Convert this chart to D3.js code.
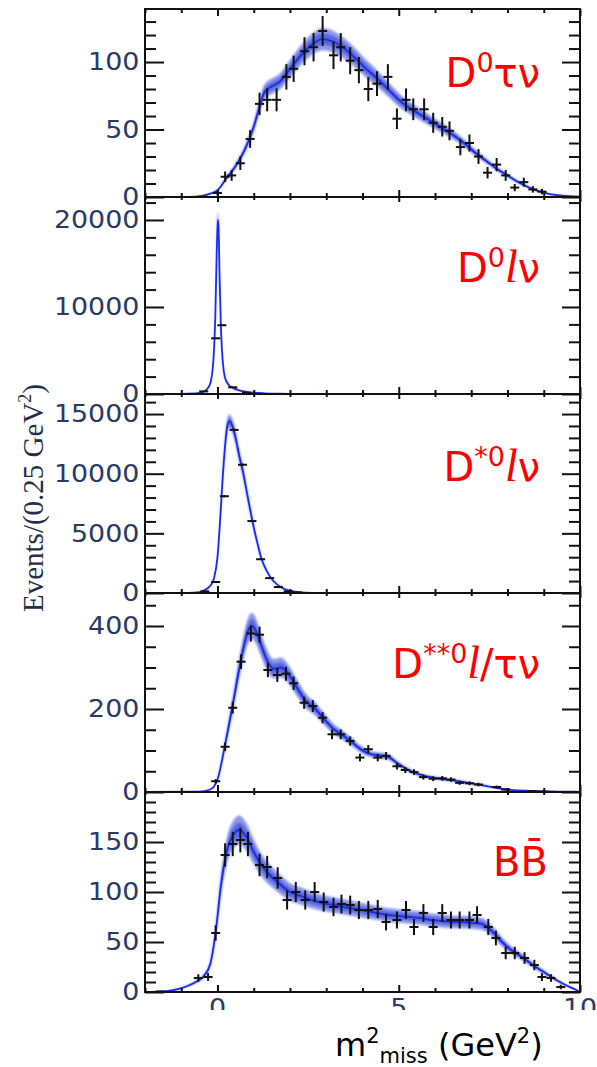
<!DOCTYPE html>
<html>
<head>
<meta charset="utf-8">
<script src="https://cdn.jsdelivr.net/npm/d3@7"></script>
<style>
  html, body { margin: 0; padding: 0; background: #fff; }
  svg { display: block; }
</style>
</head>
<body>
<svg id="chart" width="597" height="1067"></svg>
<script>
// ---- Missing-mass-squared distributions, one panel per component ----

// x axis (m^2_miss, GeV^2)
const xDomain = [-2, 10];
const xTickLabels = [0, 5, 10];
const xMinorStep = 1;

// y axis per panel
const yMax = [139.3, 22640, 16680, 479.5, 200];
const yMajorTicks = [[0, 50, 100], [0, 10000, 20000], [0, 5000, 10000, 15000], [0, 200, 400], [0, 50, 100, 150]];
const yMinorStep = [10, 2000, 1000, 50, 10];
const bandFrac = [0.07, 0.05, 0.04, 0.08, 0.09];

// D0 tau nu
const dTauDataX = [0.0, 0.21, 0.39, 0.63, 0.9, 1.16, 1.37, 1.63, 1.9, 2.1, 2.4, 2.65, 2.9, 3.2, 3.4, 3.66, 3.9, 4.16, 4.4, 4.7, 4.95, 5.2, 5.4, 5.7, 5.95, 6.2, 6.4, 6.7, 6.95, 7.2, 7.45, 7.7, 7.95, 8.2, 8.45, 8.7, 8.95];
const dTauDataY = [3, 15, 16, 25, 43, 69, 72, 72, 89, 95, 108, 111, 123, 105, 111, 101, 94, 80, 84, 89, 58, 72, 65, 65, 55, 52, 49, 37, 40, 30, 18, 24, 16, 7, 11, 5.6, 4];
const dTauFitX = [-2, -1, -0.6, -0.4, -0.2, 0, 0.25, 0.5, 0.75, 1.0, 1.15, 1.3, 1.5, 1.7, 2.0, 2.3, 2.6, 2.9, 3.2, 3.5, 3.8, 4.1, 4.4, 4.7, 5.0, 5.3, 5.6, 5.9, 6.2, 6.5, 6.8, 7.1, 7.4, 7.7, 8.0, 8.3, 8.6, 8.9, 9.2, 9.5, 10];
const dTauFitY = [0, 0, 0.3, 1, 2.5, 5, 14, 23, 35, 52, 66, 78, 82, 85, 95, 105, 113, 117, 115, 110, 103, 95, 88, 80, 72, 66, 61, 56, 51, 46, 40, 33, 27, 21, 16, 11, 7, 4, 2, 1, 0.2];

// D0 l nu
const dEllDataX = [-0.38, -0.05, 0.12, 0.42, 0.8];
const dEllDataY = [300, 6400, 7900, 770, 150];
const dEllFitX = [-2, -1, -0.6, -0.4, -0.3, -0.2, -0.12, -0.06, -0.02, 0.01, 0.03, 0.06, 0.1, 0.15, 0.2, 0.3, 0.45, 0.6, 0.8, 1.0, 1.3, 1.7, 2.2, 3, 10];
const dEllFitY = [0, 20, 80, 250, 500, 1200, 3500, 9000, 16500, 20000, 19000, 13000, 7000, 3500, 2000, 1100, 650, 420, 250, 150, 80, 40, 15, 0, 0];

// D*0 l nu
const dStarEllDataX = [-0.35, -0.05, 0.19, 0.46, 0.69, 0.95, 1.19, 1.44, 1.68, 1.95, 2.2];
const dStarEllDataY = [140, 920, 8110, 13670, 10750, 6030, 2830, 1250, 500, 140, 50];
const dStarEllFitX = [-2, -0.8, -0.5, -0.35, -0.2, -0.1, 0, 0.08, 0.14, 0.2, 0.26, 0.32, 0.4, 0.5, 0.6, 0.7, 0.8, 0.9, 1.0, 1.1, 1.2, 1.35, 1.5, 1.65, 1.85, 2.05, 2.3, 2.6, 3.0, 10];
const dStarEllFitY = [0, 10, 80, 250, 600, 1200, 3000, 6500, 9500, 12000, 13800, 14400, 14100, 13000, 11500, 10200, 8600, 7000, 5500, 4200, 3000, 1900, 1150, 700, 330, 150, 60, 15, 0, 0];

// D**0 l / tau nu
const dStarStarDataX = [-0.05, 0.21, 0.42, 0.65, 0.92, 1.16, 1.39, 1.65, 1.89, 2.1, 2.39, 2.63, 2.9, 3.16, 3.4, 3.66, 3.93, 4.16, 4.42, 4.65, 4.95, 5.18, 5.42, 5.68, 5.95, 6.2, 6.44, 6.68, 6.95, 7.2, 7.7, 7.95, 8.68, 8.95];
const dStarStarDataY = [26, 109, 203, 314, 382, 379, 294, 282, 285, 262, 215, 207, 179, 139, 139, 123, 83, 103, 83, 87, 62, 53, 48, 36, 32, 33, 30, 22, 21, 18, 12, 6, 2, 1];
const dStarStarFitX = [-2, -0.5, -0.2, 0, 0.2, 0.42, 0.65, 0.85, 0.95, 1.05, 1.2, 1.35, 1.55, 1.75, 1.95, 2.2, 2.45, 2.7, 2.95, 3.2, 3.45, 3.7, 3.95, 4.2, 4.45, 4.7, 4.95, 5.2, 5.45, 5.7, 6.0, 6.3, 6.6, 6.9, 7.2, 7.5, 7.8, 8.1, 8.5, 9.0, 9.5, 10];
const dStarStarFitY = [0, 1, 6, 30, 110, 210, 320, 390, 400, 390, 355, 320, 297, 300, 285, 250, 218, 200, 175, 152, 137, 121, 103, 92, 88, 85, 70, 56, 46, 39, 34, 30, 27, 22, 18, 13, 8, 5, 3, 2, 1, 0.3];

// B Bbar
const bbarDataX = [-1.58, -0.53, -0.26, -0.05, 0.21, 0.42, 0.63, 0.84, 1.16, 1.37, 1.66, 1.92, 2.16, 2.42, 2.68, 2.93, 3.2, 3.42, 3.66, 3.9, 4.16, 4.42, 4.65, 4.95, 5.2, 5.42, 5.68, 5.95, 6.2, 6.44, 6.68, 6.95, 7.16, 7.47, 7.68, 7.95, 8.2, 8.47, 8.74, 8.95, 9.2, 9.47];
const bbarDataY = [0.5, 14, 15, 59, 137, 148, 152, 148, 127, 125, 114, 92, 100, 92, 100, 90, 85, 88, 87, 82, 82, 83, 70, 72, 82, 65, 79, 65, 79, 72, 72, 72, 77, 65, 54, 39, 39, 34, 27, 15, 14, 5];
const bbarFitX = [-2, -1.5, -1.2, -0.9, -0.6, -0.4, -0.2, -0.05, 0.1, 0.25, 0.45, 0.6, 0.8, 1.0, 1.25, 1.5, 1.75, 2.0, 2.3, 2.6, 2.9, 3.2, 3.5, 3.8, 4.1, 4.4, 4.7, 5.0, 5.3, 5.6, 5.9, 6.2, 6.5, 6.8, 7.1, 7.3, 7.6, 7.85, 8.1, 8.4, 8.7, 9.0, 9.3, 9.6, 9.9, 10];
const bbarFitY = [0, 0.5, 2, 5, 10, 15, 28, 60, 108, 140, 158, 162, 155, 140, 125, 115, 107, 100, 96, 92, 89, 87, 85, 83, 81, 79, 77, 76, 75, 74, 72, 71, 70, 70, 69, 68, 60, 50, 42, 35, 27, 20, 13, 7, 2, 0];

const panels = [
  { dataX: dTauDataX, dataY: dTauDataY, fitX: dTauFitX, fitY: dTauFitY },
  { dataX: dEllDataX, dataY: dEllDataY, fitX: dEllFitX, fitY: dEllFitY },
  { dataX: dStarEllDataX, dataY: dStarEllDataY, fitX: dStarEllFitX, fitY: dStarEllFitY },
  { dataX: dStarStarDataX, dataY: dStarStarDataY, fitX: dStarStarFitX, fitY: dStarStarFitY },
  { dataX: bbarDataX, dataY: bbarDataY, fitX: bbarFitX, fitY: bbarFitY }
];

// Panel labels as rich-text pieces
const panelLabels = [
  [{ t: "D" }, { t: "0", sup: true }, { t: "τν" }],
  [{ t: "D" }, { t: "0", sup: true }, { t: "l", ell: true }, { t: "ν" }],
  [{ t: "D" }, { t: "*0", sup: true }, { t: "l", ell: true }, { t: "ν" }],
  [{ t: "D" }, { t: "**0", sup: true }, { t: "l", ell: true }, { t: "/τν" }],
  [{ t: "BB\u0304" }]
];

// ---- layout ----
const frameLeft = 145, frameRight = 580;
const panelTop = [9, 197, 394, 593, 792];
const panelBottom = [197, 394, 593, 792, 992];
const labelBaseline = [87, 282, 481, 678, 876];
const labelRight = [540, 540, 540, 540, 548];

const svg = d3.select("#chart");
const defs = svg.append("defs");
defs.append("filter").attr("id", "soft").attr("x", "-5%").attr("y", "-5%").attr("width", "110%").attr("height", "110%")
  .append("feGaussianBlur").attr("stdDeviation", 1.1);
defs.append("filter").attr("id", "softLine")
  .append("feGaussianBlur").attr("stdDeviation", 0.5);
defs.append("clipPath").attr("id", "xLabelClip")
  .append("rect").attr("x", 0).attr("y", 990).attr("width", 597).attr("height", 20);

const x = d3.scaleLinear().domain(xDomain).range([frameLeft, frameRight]);
const xMinor = d3.range(xDomain[0], xDomain[1] + 0.001, xMinorStep).filter(v => !xTickLabels.includes(v));

const tickColor = "#111";
const labelColor = "#2a3a64";

panels.forEach((p, i) => {
  const top = panelTop[i], bottom = panelBottom[i];
  const y = d3.scaleLinear().domain([0, yMax[i]]).range([bottom, top]);
  const clipId = "clip" + i;
  defs.append("clipPath").attr("id", clipId)
    .append("rect").attr("x", frameLeft).attr("y", top).attr("width", frameRight - frameLeft).attr("height", bottom - top);

  const g = svg.append("g").attr("clip-path", `url(#${clipId})`);
  const fit = p.fitX.map((xv, k) => ({ x: xv, y: p.fitY[k] }));

  // uncertainty band of the fit (outer and inner)
  const band = f => d3.area().curve(d3.curveMonotoneX)
    .x(d => x(d.x)).y0(d => y(d.y * (1 - f))).y1(d => y(d.y * (1 + f)));
  g.append("path").datum(fit).attr("d", band(bandFrac[i]))
    .attr("fill", "#5d6de2").attr("fill-opacity", 0.7).attr("filter", "url(#soft)");
  g.append("path").datum(fit).attr("d", band(bandFrac[i] * 0.5))
    .attr("fill", "#3444cc").attr("fill-opacity", 0.6).attr("filter", "url(#soft)");
  // central fit line
  g.append("path").datum(fit)
    .attr("d", d3.line().curve(d3.curveMonotoneX).x(d => x(d.x)).y(d => y(d.y)))
    .attr("fill", "none").attr("stroke", "#1a2cf0").attr("stroke-width", 1.8).attr("filter", "url(#softLine)");

  // data points with Poisson error bars and bin-width bars
  const pts = p.dataX.map((xv, k) => ({ x: xv, y: p.dataY[k] }));
  const cross = g.append("g").attr("stroke", "#111").attr("stroke-width", 2);
  cross.selectAll("line.v").data(pts).join("line").attr("class", "v")
    .attr("x1", d => x(d.x)).attr("x2", d => x(d.x))
    .attr("y1", d => y(Math.max(0, d.y - Math.sqrt(d.y)))).attr("y2", d => y(d.y + Math.sqrt(d.y)));
  cross.selectAll("line.h").data(pts).join("line").attr("class", "h")
    .attr("x1", d => x(d.x - 0.125)).attr("x2", d => x(d.x + 0.125))
    .attr("y1", d => y(d.y)).attr("y2", d => y(d.y));

  // frame
  svg.append("rect").attr("x", frameLeft).attr("y", top)
    .attr("width", frameRight - frameLeft).attr("height", bottom - top)
    .attr("fill", "none").attr("stroke", tickColor).attr("stroke-width", 2);

  // y ticks, inner on both sides
  const minors = d3.range(0, yMax[i], yMinorStep[i]).filter(v => !yMajorTicks[i].includes(v));
  const styleAxis = sel => { sel.select(".domain").remove(); sel.selectAll("line").attr("stroke", tickColor).attr("stroke-width", 2); };
  svg.append("g").attr("transform", `translate(${frameLeft},0)`)
    .call(d3.axisLeft(y).tickValues(minors).tickSize(-11).tickFormat("")).call(styleAxis);
  svg.append("g").attr("transform", `translate(${frameRight},0)`)
    .call(d3.axisRight(y).tickValues(minors).tickSize(-11).tickFormat("")).call(styleAxis);
  svg.append("g").attr("transform", `translate(${frameRight},0)`)
    .call(d3.axisRight(y).tickValues(yMajorTicks[i]).tickSize(-18).tickFormat("")).call(styleAxis);
  const left = svg.append("g").attr("transform", `translate(${frameLeft},0)`)
    .call(d3.axisLeft(y).tickValues(yMajorTicks[i]).tickSize(-19).tickPadding(5).tickFormat(d3.format("d")))
    .call(styleAxis);
  left.selectAll("text")
    .attr("fill", labelColor).attr("font-family", "DejaVu Sans").attr("font-size", 24)
    .attr("transform", "scale(1.12,1)");

  // x ticks on the top edge and the bottom edge
  const xt = (axis, yPos, vals, size) => svg.append("g").attr("transform", `translate(0,${yPos})`)
    .call(axis(x).tickValues(vals).tickSize(size).tickFormat("")).call(styleAxis);
  if (i === 0) {
    xt(d3.axisBottom, top, xMinor, 4);
    xt(d3.axisBottom, top, xTickLabels, 7);
  }
  xt(d3.axisTop, bottom, xMinor, 4);
  xt(d3.axisTop, bottom, xTickLabels, 7);
  if (i < panels.length - 1) {
    xt(d3.axisBottom, bottom, xMinor, 3);
    xt(d3.axisBottom, bottom, xTickLabels, 5);
  }

  // component label
  const lab = svg.append("text").attr("x", labelRight[i]).attr("y", labelBaseline[i])
    .attr("text-anchor", "end").attr("fill", "#ff0000")
    .attr("font-family", "DejaVu Sans").attr("font-size", 40);
  panelLabels[i].forEach((piece, k) => {
    const prev = k > 0 ? panelLabels[i][k - 1] : null;
    const ts = lab.append("tspan").text(piece.t);
    let dy = 0;
    if (piece.sup) dy = -15;
    if (prev && prev.sup) dy = 15;
    if (dy) ts.attr("dy", dy);
    if (piece.sup) ts.attr("font-size", 27);
    if (piece.ell) ts.attr("font-family", "Liberation Serif").attr("font-style", "italic").attr("font-size", 46);
  });
});

// x tick labels under the bottom panel
svg.append("g").attr("clip-path", "url(#xLabelClip)")
  .selectAll("text").data(xTickLabels).join("text")
  .attr("transform", d => `translate(${x(d)},1016) scale(1.12,1)`)
  .attr("text-anchor", "middle").attr("fill", labelColor)
  .attr("font-family", "DejaVu Sans").attr("font-size", 24)
  .text(d => d);

// y axis title
svg.append("text")
  .attr("transform", "translate(43,498) rotate(-90)")
  .attr("text-anchor", "middle").attr("fill", "#262e48")
  .attr("font-family", "Liberation Serif").attr("font-size", 29)
  .call(t => {
    t.append("tspan").text("Events/(0.25 GeV");
    t.append("tspan").text("2").attr("font-size", 18).attr("dy", -12);
    t.append("tspan").text(")").attr("dy", 12);
  });

// x axis title
svg.append("text")
  .attr("x", 335).attr("y", 1056)
  .attr("fill", "#000").attr("font-family", "DejaVu Sans").attr("font-size", 32)
  .call(t => {
    t.append("tspan").text("m");
    t.append("tspan").text("2").attr("font-size", 21).attr("dy", -13);
    t.append("tspan").text("miss").attr("font-size", 21).attr("dy", 20);
    t.append("tspan").text(" (GeV").attr("dy", -7);
    t.append("tspan").text("2").attr("font-size", 21).attr("dy", -13);
    t.append("tspan").text(")").attr("dy", 13);
  });
</script>
</body>
</html>
